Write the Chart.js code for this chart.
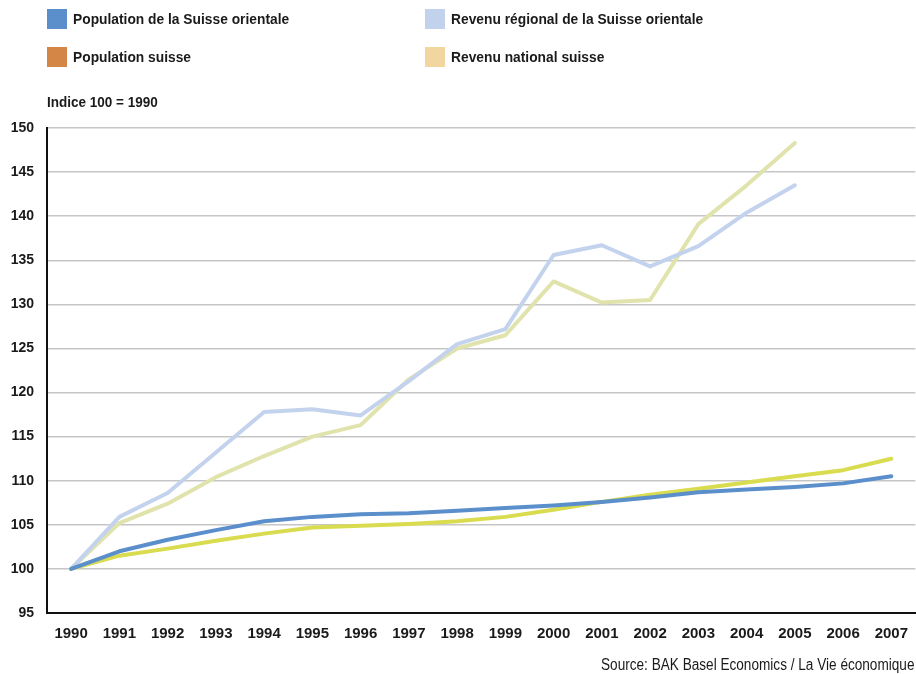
<!DOCTYPE html>
<html>
<head>
<meta charset="utf-8">
<script src="https://cdn.jsdelivr.net/npm/chart.js@4.4.1/dist/chart.umd.min.js"></script>
<style>
  html, body { margin: 0; padding: 0; background: #fff; }
  #wrap { position: relative; width: 916px; height: 674px; overflow: hidden; font-family: "Liberation Sans", sans-serif; color: #1a1a1a; }
  #chart { position: absolute; left: 0; top: 0; }
  .lg { position: absolute; font-weight: bold; font-size: 15.5px; line-height: 20px; white-space: nowrap; transform: scaleX(0.89); transform-origin: 0 50%; }
  .sw { position: absolute; width: 20px; height: 20px; }
  #unit { position: absolute; left: 47px; top: 93px; font-weight: bold; font-size: 15px; white-space: nowrap; transform: scaleX(0.9); transform-origin: 0 50%; }
  #src { position: absolute; left: 601px; top: 656px; font-size: 16px; white-space: nowrap; transform: scaleX(0.85); transform-origin: 0 50%; }
</style>
</head>
<body>
<div id="wrap">
  <canvas id="chart" width="920" height="674"></canvas>
  <div id="legend"></div>
  <div id="unit">Indice 100 = 1990</div>
  <div id="src">Source: BAK Basel Economics / La Vie économique</div>
</div>
<script>
const years = ["1990","1991","1992","1993","1994","1995","1996","1997","1998","1999","2000","2001","2002","2003","2004","2005","2006","2007"];
const popOrientale = [100, 102.0, 103.3, 104.4, 105.4, 105.9, 106.2, 106.3, 106.6, 106.9, 107.2, 107.6, 108.1, 108.7, 109.0, 109.3, 109.7, 110.5];
const popSuisse    = [100, 101.5, 102.3, 103.2, 104.0, 104.7, 104.9, 105.1, 105.4, 105.9, 106.7, 107.6, 108.4, 109.1, 109.8, 110.5, 111.2, 112.5];
const revRegional  = [100, 105.9, 108.6, 113.2, 117.8, 118.1, 117.4, 121.3, 125.5, 127.2, 135.6, 136.7, 134.3, 136.6, 140.4, 143.5, null, null];
const revNational  = [100, 105.2, 107.4, 110.4, 112.8, 115.0, 116.3, 121.5, 125.0, 126.5, 132.6, 130.2, 130.5, 139.1, 143.5, 148.3, null, null];
const yTicks = [95, 100, 105, 110, 115, 120, 125, 130, 135, 140, 145, 150];

const legendItems = [
  { label: "Population de la Suisse orientale", color: "#5b8fcc", x: 47, y: 9 },
  { label: "Revenu régional de la Suisse orientale", color: "#c3d2ec", x: 425, y: 9 },
  { label: "Population suisse", color: "#d48646", x: 47, y: 47 },
  { label: "Revenu national suisse", color: "#f1d6a0", x: 425, y: 47 }
];
const lg = document.getElementById('legend');
legendItems.forEach(it => {
  const s = document.createElement('div');
  s.className = 'sw'; s.style.left = it.x + 'px'; s.style.top = it.y + 'px'; s.style.background = it.color;
  const t = document.createElement('div');
  t.className = 'lg'; t.style.left = (it.x + 26) + 'px'; t.style.top = it.y + 'px'; t.textContent = it.label;
  lg.appendChild(s); lg.appendChild(t);
});

const common = { pointRadius: 0, pointHoverRadius: 0, borderWidth: 4, tension: 0, fill: false, borderCapStyle: 'round', borderJoinStyle: 'round', spanGaps: false };

new Chart(document.getElementById('chart'), {
  type: 'line',
  data: {
    labels: years,
    datasets: [
      Object.assign({ label: "Revenu national suisse", data: revNational, borderColor: "#e1e3ad", order: 4 }, common),
      Object.assign({ label: "Revenu régional de la Suisse orientale", data: revRegional, borderColor: "#c3d3ee", order: 3 }, common),
      Object.assign({ label: "Population suisse", data: popSuisse, borderColor: "#d9dc4e", order: 2 }, common),
      Object.assign({ label: "Population de la Suisse orientale", data: popOrientale, borderColor: "#5b8fcc", order: 1 }, common)
    ]
  },
  options: {
    responsive: false,
    animation: false,
    layout: { padding: { top: 128, bottom: 21, left: 0, right: 0 } },
    plugins: { legend: { display: false }, tooltip: { enabled: false } },
    scales: {
      x: {
        offset: true,
        grid: { display: false, drawTicks: false },
        border: { display: true, color: '#111', width: 2 },
        ticks: { color: '#1a1a1a', font: { family: 'Liberation Sans', weight: 'bold', size: 15 }, padding: 12, maxRotation: 0, autoSkip: false },
        afterFit: s => { s.height = 40; }
      },
      y: {
        min: 95, max: 150,
        afterBuildTicks: s => { s.ticks = yTicks.map(v => ({ value: v })); },
        grid: { color: '#c6c6c6', lineWidth: 1.5, drawTicks: false },
        border: { display: true, color: '#111', width: 2 },
        ticks: { color: '#1a1a1a', font: { family: 'Liberation Sans', weight: 'bold', size: 14 }, padding: 13 },
        afterFit: s => { s.width = 47; }
      }
    }
  }
});
</script>
</body>
</html>
